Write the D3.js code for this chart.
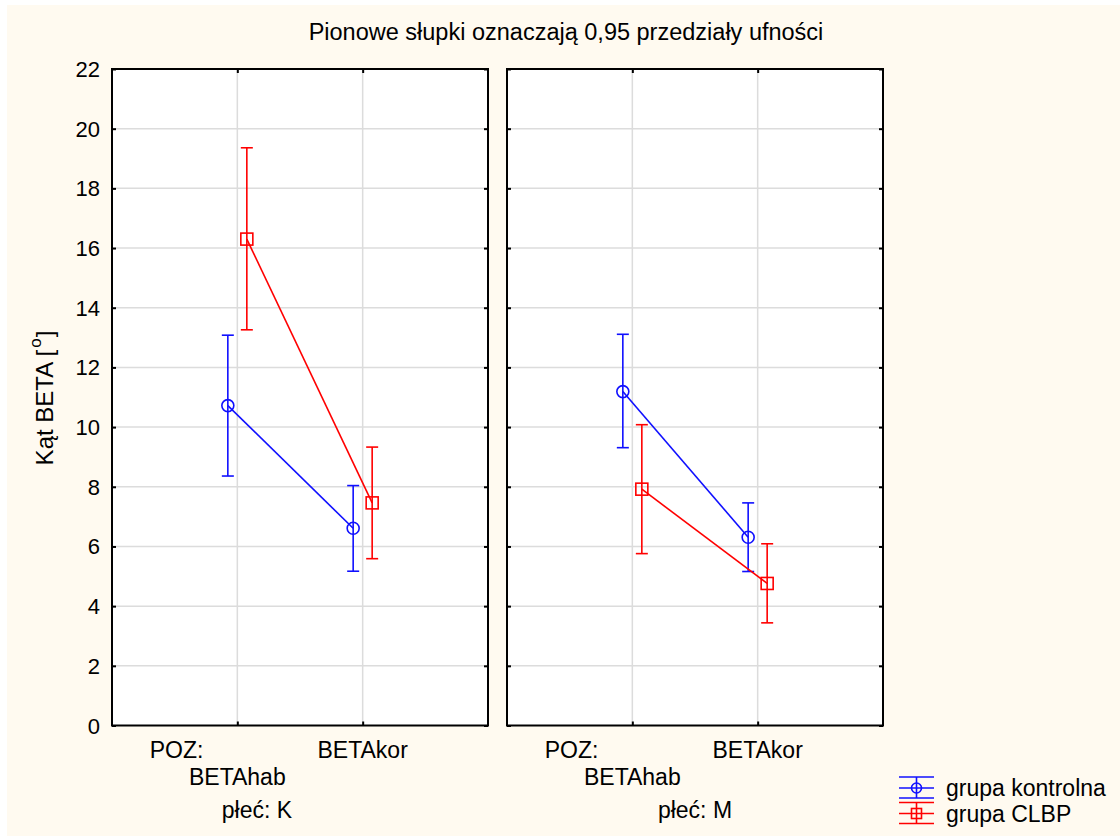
<!DOCTYPE html>
<html>
<head>
<meta charset="utf-8">
<script src="https://cdn.jsdelivr.net/npm/d3@7"></script>
<style>
body{margin:0;background:#ffffff;}
text{font-family:"Liberation Sans",Arial,sans-serif;fill:#000;}
</style>
</head>
<body>
<svg id="chart"></svg>
<script>
//values
var title = "Pionowe słupki oznaczają 0,95 przedziały ufności";
var yLabel = "Kąt BETA [";
var panels = ["płeć: K","płeć: M"];
var categories = ["BETAhab","BETAkor"];
var categoryPrefix = ["POZ:",""];
var groups = ["grupa kontrolna","grupa CLBP"];
var groupColors = ["#1010ff","#ff0000"];
var yTicks = [0,2,4,6,8,10,12,14,16,18,20,22];

//one row per panel, one value per category
var kontrolnaMean = [[10.72,6.61],[11.19,6.31]];
var kontrolnaLow  = [[8.36,5.17],[9.31,5.16]];
var kontrolnaHigh = [[13.08,8.04],[13.11,7.46]];
var clbpMean = [[16.30,7.46],[7.92,4.76]];
var clbpLow  = [[13.26,5.59],[5.76,3.44]];
var clbpHigh = [[19.36,9.33],[10.08,6.09]];

var screen = {width:1120,height:836};
var plot = {top:69,bottom:725.5,width:376};
var panelLeft = [112,507];
var offsets = [-9.5,9.5];

var svg = d3.select("#chart")
    .attr("width",screen.width)
    .attr("height",screen.height);

//cream background with a thin white edge
svg.append("rect")
    .attr("x",7).attr("y",5)
    .attr("width",screen.width-7).attr("height",screen.height-5)
    .attr("fill","#fffaf0");

var yScale = d3.scaleLinear()
    .domain([0,22])
    .range([plot.bottom,plot.top]);

var xScale = d3.scalePoint()
    .domain(categories)
    .range([0,plot.width])
    .padding(1);

var seriesFor = function(p)
{
    return [
        {mean:kontrolnaMean[p],low:kontrolnaLow[p],high:kontrolnaHigh[p],color:groupColors[0],shape:"circle",off:offsets[0]},
        {mean:clbpMean[p],low:clbpLow[p],high:clbpHigh[p],color:groupColors[1],shape:"square",off:offsets[1]}
    ];
}

var drawMarker = function(sel,shape,x,y,color,r)
{
    if(shape=="circle")
    {
        sel.append("circle")
            .attr("cx",x).attr("cy",y).attr("r",r)
            .attr("fill","none").attr("stroke",color).attr("stroke-width",1.6);
    }
    else
    {
        sel.append("rect")
            .attr("x",x-r).attr("y",y-r)
            .attr("width",2*r).attr("height",2*r)
            .attr("fill","none").attr("stroke",color).attr("stroke-width",1.6);
    }
}

panels.forEach(function(panel,p)
{
    var g = svg.append("g")
        .attr("transform","translate("+panelLeft[p]+",0)");

    g.append("rect")
        .attr("x",0).attr("y",plot.top)
        .attr("width",plot.width).attr("height",plot.bottom-plot.top)
        .attr("fill","#fff");

    //grid
    g.selectAll(".hgrid")
        .data(yTicks.slice(1,-1))
        .enter()
        .append("line")
        .attr("x1",0).attr("x2",plot.width)
        .attr("y1",function(d){return yScale(d);})
        .attr("y2",function(d){return yScale(d);})
        .attr("stroke","#dcdcdc").attr("stroke-width",1.5);

    g.selectAll(".vgrid")
        .data(categories)
        .enter()
        .append("line")
        .attr("x1",function(d){return xScale(d);})
        .attr("x2",function(d){return xScale(d);})
        .attr("y1",plot.top).attr("y2",plot.bottom)
        .attr("stroke","#dcdcdc").attr("stroke-width",1.5);

    //inward ticks
    var left = d3.axisRight(yScale).tickValues(yTicks).tickSize(4).tickFormat("");
    var right = d3.axisLeft(yScale).tickValues(yTicks).tickSize(4).tickFormat("");
    var top = d3.axisBottom(xScale).tickSize(4).tickFormat("");
    var bottom = d3.axisTop(xScale).tickSize(4).tickFormat("");
    g.append("g").call(left);
    g.append("g").attr("transform","translate("+plot.width+",0)").call(right);
    g.append("g").attr("transform","translate(0,"+plot.top+")").call(top);
    g.append("g").attr("transform","translate(0,"+plot.bottom+")").call(bottom);
    g.selectAll(".domain").remove();
    g.selectAll(".tick line").attr("stroke","#000").attr("stroke-width",2);

    g.append("rect")
        .attr("x",0).attr("y",plot.top)
        .attr("width",plot.width).attr("height",plot.bottom-plot.top)
        .attr("fill","none").attr("stroke","#000").attr("stroke-width",2);

    //series
    seriesFor(p).forEach(function(s)
    {
        var pts = categories.map(function(c,i)
        {
            return {x:xScale(c)+s.off,y:yScale(s.mean[i]),lo:yScale(s.low[i]),hi:yScale(s.high[i])};
        });

        var line = d3.line()
            .x(function(d){return d.x;})
            .y(function(d){return d.y;});

        g.append("path")
            .datum(pts)
            .attr("d",line)
            .attr("fill","none")
            .attr("stroke",s.color)
            .attr("stroke-width",1.6);

        pts.forEach(function(d)
        {
            g.append("line")
                .attr("x1",d.x).attr("x2",d.x)
                .attr("y1",d.lo).attr("y2",d.hi)
                .attr("stroke",s.color).attr("stroke-width",1.6);
            [d.lo,d.hi].forEach(function(cy)
            {
                g.append("line")
                    .attr("x1",d.x-6).attr("x2",d.x+6)
                    .attr("y1",cy).attr("y2",cy)
                    .attr("stroke",s.color).attr("stroke-width",1.6);
            });
            drawMarker(g,s.shape,d.x,d.y,s.color,6);
        });
    });

    //category labels
    categories.forEach(function(c,i)
    {
        if(categoryPrefix[i])
        {
            g.append("text")
                .text(categoryPrefix[i])
                .attr("x",xScale(c)-34)
                .attr("y",758)
                .attr("text-anchor","end")
                .style("font-size","23px");
            g.append("text")
                .text(c)
                .attr("x",xScale(c))
                .attr("y",785)
                .attr("text-anchor","middle")
                .style("font-size","23px");
        }
        else
        {
            g.append("text")
                .text(c)
                .attr("x",xScale(c))
                .attr("y",758)
                .attr("text-anchor","middle")
                .style("font-size","23px");
        }
    });
});

//panel labels
svg.selectAll(".panelLabel")
    .data(panels)
    .enter()
    .append("text")
    .text(function(d){return d;})
    .attr("x",function(d,i){return i==0 ? 257 : panelLeft[i]+plot.width/2;})
    .attr("y",818)
    .attr("text-anchor","middle")
    .style("font-size","23px");

//y tick labels
svg.selectAll(".ytick")
    .data(yTicks)
    .enter()
    .append("text")
    .text(function(d){return d;})
    .attr("x",100)
    .attr("y",function(d){return yScale(d)+8;})
    .attr("text-anchor","end")
    .style("font-size","22px");

//title
svg.append("text")
    .text(title)
    .attr("x",566)
    .attr("y",40)
    .attr("text-anchor","middle")
    .style("font-size","23.5px");

//y label
var yl = svg.append("text")
    .attr("transform","translate(53,398) rotate(-90)")
    .attr("text-anchor","middle")
    .style("font-size","24px");
yl.append("tspan").text(yLabel);
yl.append("tspan").text("o").attr("dy",-12).attr("dx",2).style("font-size","17px");
yl.append("tspan").text("]").attr("dy",12).attr("dx",1);

//legend
var legend = svg.append("g");
groups.forEach(function(name,i)
{
    var cy = 788+i*25.5;
    var color = groupColors[i];
    [-11,0,10].forEach(function(dy)
    {
        legend.append("line")
            .attr("x1",899).attr("x2",934)
            .attr("y1",cy+dy).attr("y2",cy+dy)
            .attr("stroke",color).attr("stroke-width",1.6);
    });
    legend.append("line")
        .attr("x1",916.5).attr("x2",916.5)
        .attr("y1",cy-11).attr("y2",cy+10)
        .attr("stroke",color).attr("stroke-width",1.6);
    drawMarker(legend,i==0?"circle":"square",916.5,cy,color,5);
    legend.append("text")
        .text(name)
        .attr("x",946)
        .attr("y",cy+8)
        .style("font-size","23px");
});
</script>
</body>
</html>
